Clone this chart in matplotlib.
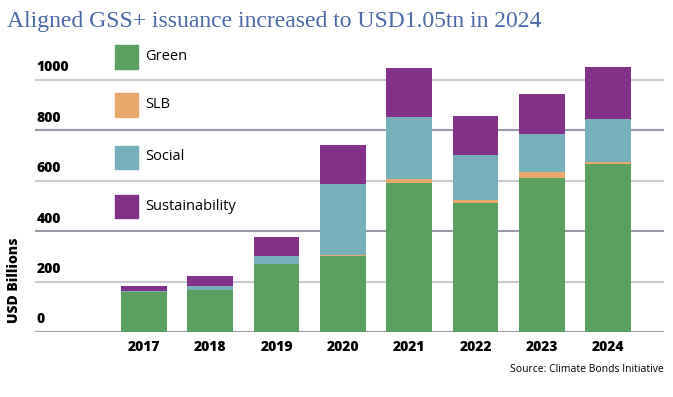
import numpy as np
import matplotlib.pyplot as plt
from matplotlib.patches import Rectangle

years = ['2017', '2018', '2019', '2020', '2021', '2022', '2023', '2024']
green = [157, 168, 271, 302, 592, 513, 612, 667]
slb = [0, 0, 0, 4, 16, 11, 23, 8]
social = [7, 16, 31, 282, 245, 179, 151, 170]
sustainability = [20, 39, 76, 154, 195, 154, 159, 207]

series = ['Green', 'SLB', 'Social', 'Sustainability']
colors = ['#5aa060', '#e8a96a', '#75b0bb', '#84318a']
yticks = [0, 200, 400, 600, 800, 1000]

sans = ['Open Sans', 'DejaVu Sans']

fig = plt.figure(figsize=(6.73, 3.97), dpi=100)
ax = fig.add_axes([35 / 673, 65 / 397, 629 / 673, 290 / 397])

# gridlines, alternating light / dark like the original
for i, v in enumerate(yticks):
    c = '#9b98a8' if i % 2 == 0 else '#cbcad2'
    ax.axhline(v, color=c, lw=1.5, zorder=0)
    ax.annotate(str(v), xy=(0.002, v), xycoords=('axes fraction', 'data'),
                xytext=(0, 4), textcoords='offset points', va='bottom', ha='left',
                fontsize=10, fontweight='heavy', family=sans)

x = np.arange(len(years))
bottom = np.zeros(len(years))
for vals, col in zip([green, slb, social, sustainability], colors):
    ax.bar(x, vals, 0.69, bottom=bottom, color=col, zorder=2)
    bottom += np.array(vals)

ax.set_xlim(-1.644, 7.843)
ax.set_ylim(0, 1150)
for s in ax.spines.values():
    s.set_visible(False)
ax.set_yticks([])
ax.set_xticks(x)
ax.set_xticklabels(years, fontsize=10, fontweight='heavy', family=sans)
ax.tick_params(axis='x', length=0, pad=6)

# legend drawn as stacked squares in figure pixels
legend_y = [57, 105, 157, 206]
for name, col, yc in zip(series, colors, legend_y):
    fig.patches.append(Rectangle((115 / 673, 1 - (yc + 11.5) / 397), 23 / 673, 23 / 397,
                                 transform=fig.transFigure, color=col))
    fig.text(145 / 673, 1 - yc / 397, name, fontsize=10.5, va='center', ha='left', family=sans)

fig.text(7 / 673, 1 - 22 / 397, 'Aligned GSS+ issuance increased to USD1.05tn in 2024',
         fontsize=17, color='#4b68a8', family='Liberation Serif', va='center', ha='left')
fig.text(14 / 673, 1 - 280 / 397, 'USD Billions', rotation=90, fontsize=10,
         fontweight='heavy', family=sans, va='center', ha='center')
fig.text(664 / 673, 1 - 370 / 397, 'Source: Climate Bonds Initiative', fontsize=7.5,
         family=sans, va='center', ha='right')

fig.savefig('out.png', dpi=100)
